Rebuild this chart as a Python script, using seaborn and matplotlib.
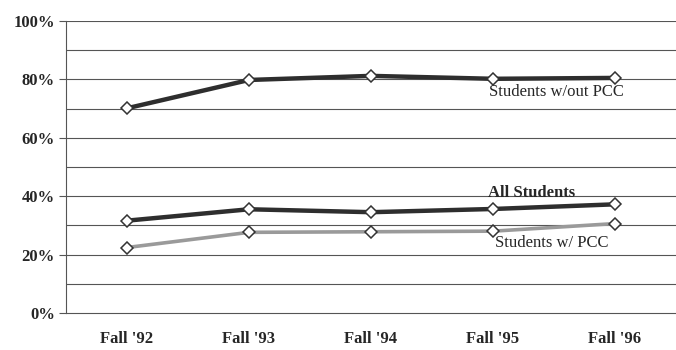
import pandas as pd
import matplotlib.pyplot as plt
import seaborn as sns

terms = ["Fall '92", "Fall '93", "Fall '94", "Fall '95", "Fall '96"]
without_pcc = [70.1, 79.8, 81.2, 80.2, 80.5]
all_students = [31.6, 35.5, 34.5, 35.6, 37.2]
with_pcc = [22.4, 27.6, 27.8, 28.0, 30.6]
y_ticks = [0, 20, 40, 60, 80, 100]
y_labels = ['0%', '20%', '40%', '60%', '80%', '100%']

sns.set_style('white')
plt.rcParams['font.family'] = ['Liberation Serif', 'DejaVu Serif']

df = pd.DataFrame({
    'term': terms * 3,
    'pct': without_pcc + all_students + with_pcc,
    'group': ['Students w/out PCC'] * 5 + ['All Students'] * 5 + ['Students w/ PCC'] * 5,
})

fig = plt.figure(figsize=(6.76, 3.5), dpi=100)
ax = fig.add_axes([0.0976, 0.106, 0.9024, 0.834])

styles = {
    'Students w/out PCC': ('#2e2e2e', 3.2),
    'All Students': ('#2e2e2e', 3.2),
    'Students w/ PCC': ('#9a9a9a', 2.6),
}
for name, (color, lw) in styles.items():
    sub = df[df['group'] == name]
    sns.lineplot(data=sub, x='term', y='pct', ax=ax, color=color, linewidth=lw,
                 marker='D', markersize=6, markerfacecolor='white',
                 markeredgecolor='#333333', markeredgewidth=1.1, zorder=3)

for v in range(10, 101, 10):
    ax.axhline(v, color='#555555', linewidth=0.8, zorder=1)

ax.set_xlim(-0.5, 4.5)
ax.set_ylim(0, 100)
ax.set_yticks(y_ticks)
ax.set_yticklabels(y_labels)
ax.set_xlabel('')
ax.set_ylabel('')
for s in ['top', 'right']:
    ax.spines[s].set_visible(False)
ax.spines['left'].set_color('#555555')
ax.spines['bottom'].set_color('#555555')
ax.spines['left'].set_linewidth(0.8)
ax.spines['bottom'].set_linewidth(0.8)
ax.tick_params(axis='y', length=5, width=0.8, color='#555555', pad=3,
               labelsize=12, left=True)
ax.tick_params(axis='x', length=0, pad=13, labelsize=12)
for lbl in ax.get_xticklabels() + ax.get_yticklabels():
    lbl.set_fontweight('bold')

ax.text(3.52, 75.7, 'Students w/out PCC', ha='center', va='center', fontsize=12)
ax.text(3.32, 41.0, 'All Students', ha='center', va='center', fontsize=12, fontweight='bold')
ax.text(3.48, 24.0, 'Students w/ PCC', ha='center', va='center', fontsize=12)

fig.savefig('out.png', dpi=100)
